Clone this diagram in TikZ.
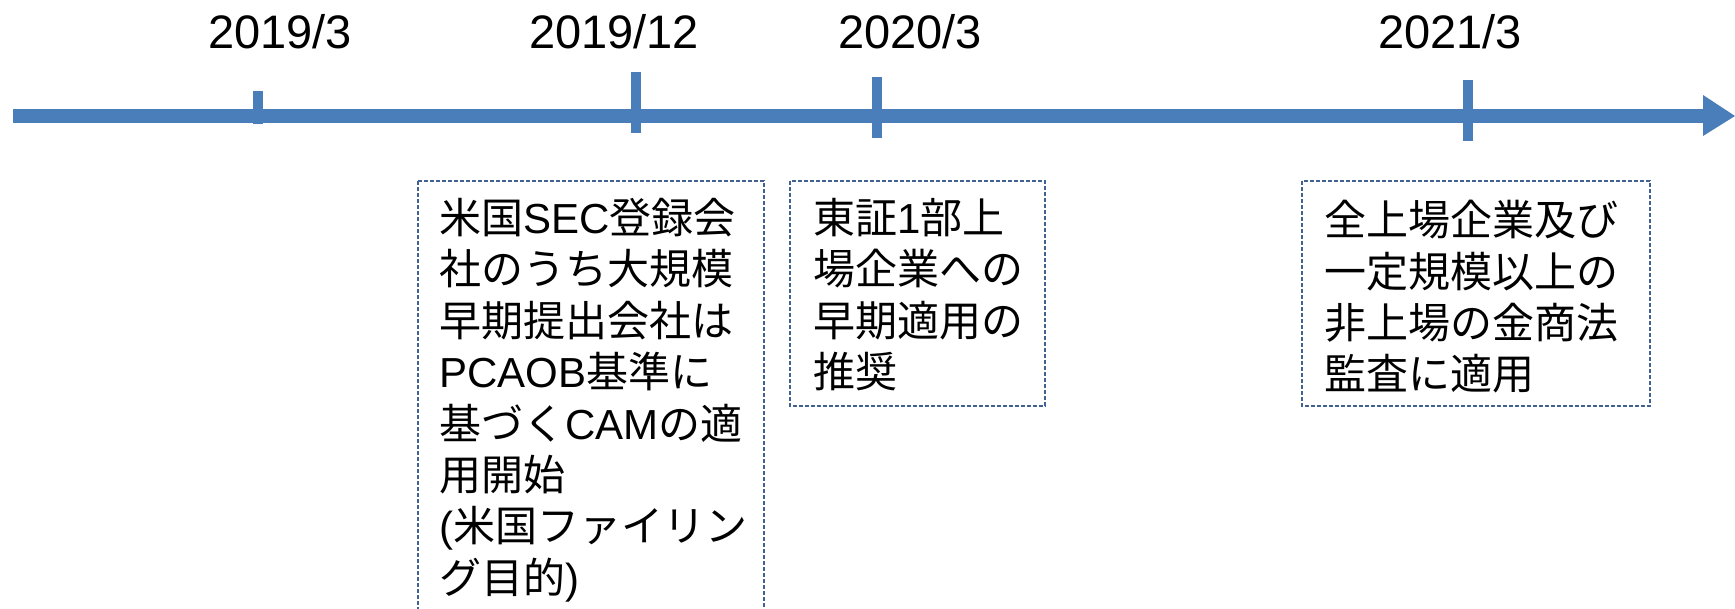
\documentclass[tikz,border=0pt]{standalone}
\usepackage{fontspec}
\setmainfont{Liberation Sans}
\newfontfamily\jpfont{Noto Sans CJK JP}
\newcommand\jtxt[1]{{\jpfont #1}}
\definecolor{tlblue}{RGB}{74,126,187}
\definecolor{boxedge}{RGB}{65,98,145}
\begin{document}
\begin{tikzpicture}[x=1pt,y=-1pt,
  tlline/.style={draw=tlblue,line width=14pt},
  tickmark/.style={draw=tlblue,line width=10pt},
  datelabel/.style={font=\fontsize{47}{56}\selectfont,anchor=base,inner sep=0pt},
  evbox/.style={draw=boxedge,line width=1.4pt,dash pattern=on 4pt off 2pt},
  evtext/.style={font=\fontsize{42}{51.4}\selectfont,align=left,anchor=north west,inner sep=0pt}]
\useasboundingbox (0,0) rectangle (1735,608);
\clip (0,0) rectangle (1735,608);
\fill[white] (0,0) rectangle (1735,608);
% timeline
\coordinate (start) at (13,116);
\coordinate (headbase) at (1704,116);
\coordinate (tip) at (1735,116);
\draw[tlline] (start) -- (headbase);
\fill[tlblue] (1703,95) -- (tip) -- (1703,136) -- cycle;
% ticks
\coordinate (t1a) at (258,91);  \coordinate (t1b) at (258,124);
\coordinate (t2a) at (636,72);  \coordinate (t2b) at (636,133);
\coordinate (t3a) at (877,77);  \coordinate (t3b) at (877,138);
\coordinate (t4a) at (1468,80); \coordinate (t4b) at (1468,141);
\draw[tickmark] (t1a) -- (t1b);
\draw[tickmark] (t2a) -- (t2b);
\draw[tickmark] (t3a) -- (t3b);
\draw[tickmark] (t4a) -- (t4b);
% date labels
\node[datelabel] (d1) at (280,48) {2019/3};
\node[datelabel] (d2) at (614,48) {2019/12};
\node[datelabel] (d3) at (910,48) {2020/3};
\node[datelabel] (d4) at (1450,48) {2021/3};
% boxes
\draw[evbox] (418,181) rectangle (764,650);
\draw[evbox] (790,181) rectangle (1045,406);
\draw[evbox] (1302,181) rectangle (1650,406);
\node[evtext] (e1) at (439,198) {\jtxt{米国}SEC\jtxt{登録会}\\
\jtxt{社のうち大規模}\\
\jtxt{早期提出会社は}\\
PCAOB\jtxt{基準に}\\
\jtxt{基づく}CAM\jtxt{の適}\\
\jtxt{用開始}\\
(\jtxt{米国ファイリン}\\
\jtxt{グ目的})};
\node[evtext] (e2) at (813,198) {\jtxt{東証}1\jtxt{部上}\\
\jtxt{場企業への}\\
\jtxt{早期適用の}\\
\jtxt{推奨}};
\node[evtext] (e3) at (1324,200) {\jtxt{全上場企業及び}\\
\jtxt{一定規模以上の}\\
\jtxt{非上場の金商法}\\
\jtxt{監査に適用}};
\end{tikzpicture}
\end{document}
